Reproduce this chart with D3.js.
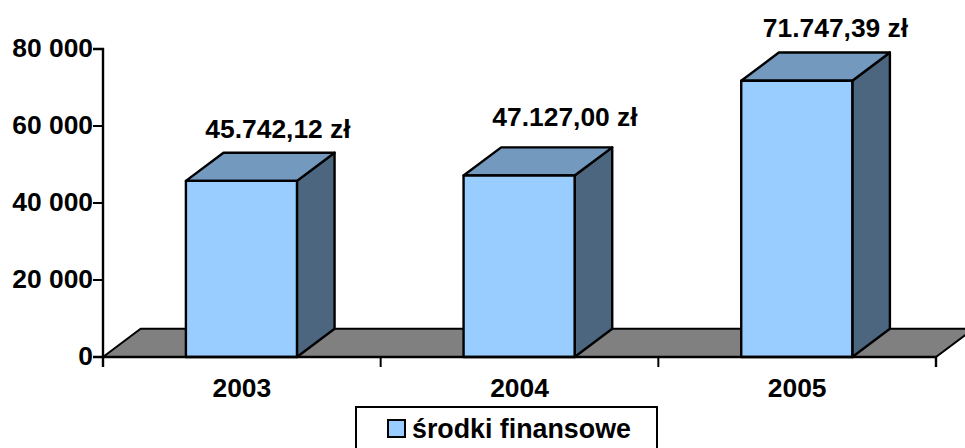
<!DOCTYPE html>
<html><head><meta charset="utf-8">
<script src="https://cdn.jsdelivr.net/npm/d3@7"></script>
<style>html,body{margin:0;background:#fff;overflow:hidden}svg{display:block}text{font-family:"Liberation Sans",Arial,sans-serif;font-weight:bold;fill:#000}</style>
</head><body><svg id="c" width="965" height="448"></svg>
<script>
const categories = ["2003","2004","2005"];
const values = [45742.12,47127.00,71747.39];
const valueLabels = ["45.742,12 zł","47.127,00 zł","71.747,39 zł"];
const tickValues = [0,20000,40000,60000,80000];
const tickLabels = ["0","20 000","40 000","60 000","80 000"];
const seriesName = "środki finansowe";

const L=103,R=936,B=357,T=49,DX=37.6,DY=-28.2,FS=26.4;
const svg=d3.select("#c");
const x=d3.scaleBand().domain(categories).range([L,R]).paddingInner(0.6).paddingOuter(0.3);
const y=d3.scaleLinear().domain([0,80000]).range([B,T]);
const poly=p=>p.map(q=>q.join(",")).join(" ");
const stroke="#000",sw=2.4;

svg.append("polygon").attr("points",poly([[L,B],[L+DX,B+DY],[R+DX,B+DY],[R,B]]))
  .attr("fill","#808080").attr("stroke",stroke).attr("stroke-width",2).attr("stroke-linejoin","round");

const g=svg.selectAll("g.bar").data(categories).join("g").attr("class","bar");
g.each(function(c,i){
  const s=d3.select(this),x0=x(c)-0.4,x1=x0+x.bandwidth(),yv=y(values[i]);
  const add=(pts,f)=>s.append("polygon").attr("points",poly(pts)).attr("fill",f)
    .attr("stroke",stroke).attr("stroke-width",sw).attr("stroke-linejoin","round");
  add([[x1,B],[x1+DX,B+DY],[x1+DX,yv+DY],[x1,yv]],"#4d6680");
  add([[x0,yv],[x0+DX,yv+DY],[x1+DX,yv+DY],[x1,yv]],"#7399bf");
  add([[x0,yv],[x1,yv],[x1,B],[x0,B]],"#99ccff");
});

const labelX=[278,565,835.5],labelY=[138,126,37];
svg.selectAll("text.value").data(valueLabels).join("text").attr("class","value")
  .attr("x",(d,i)=>labelX[i]).attr("y",(d,i)=>labelY[i]).attr("text-anchor","middle")
  .attr("font-size",FS).text(d=>d);

const yAxis=d3.axisLeft(y).tickValues(tickValues).tickFormat((d,i)=>tickLabels[i]).tickSize(10).tickPadding(0).offset(0);
const ya=svg.append("g").attr("transform",`translate(${L},0)`).call(yAxis);
const xs=d3.scalePoint().domain(d3.range(4)).range([L,R]);
const xa=svg.append("g").attr("transform",`translate(0,${B})`)
  .call(d3.axisBottom(xs).tickFormat("").tickSize(10).offset(0));
[ya,xa].forEach(a=>{a.selectAll("path").attr("stroke","#000").attr("stroke-width",2.4);
  a.selectAll("line").attr("stroke","#000").attr("stroke-width",2);});
ya.selectAll("text").attr("font-size",FS).attr("font-family",'"Liberation Sans"').attr("font-weight","bold").attr("fill","#000");

svg.selectAll("text.cat").data(categories).join("text").attr("class","cat")
  .attr("x",c=>x(c)+x.bandwidth()/2).attr("y",397).attr("text-anchor","middle")
  .attr("font-size",FS).text(c=>c);

const lg=svg.append("g");
lg.append("rect").attr("x",356).attr("y",407).attr("width",301).attr("height",60)
  .attr("fill","#fff").attr("stroke","#000").attr("stroke-width",2);
lg.append("rect").attr("x",388).attr("y",420).attr("width",17).attr("height",17)
  .attr("fill","#99ccff").attr("stroke","#000").attr("stroke-width",2);
lg.append("text").attr("x",412).attr("y",438).attr("font-size",26.8).text(seriesName);
</script></body></html>
